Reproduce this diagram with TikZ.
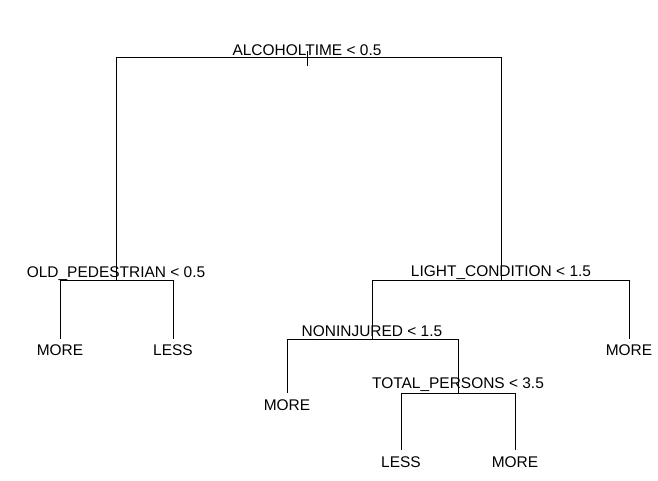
\documentclass[tikz,border=0pt]{standalone}
\usepackage{fontspec}
\setmainfont{Liberation Sans}
\usetikzlibrary{positioning}

\begin{document}
\begin{tikzpicture}[x=0.75pt,y=-0.75pt]
  \tikzstyle{split}=[anchor=base,inner sep=0pt,font=\fontsize{11.6}{13}\selectfont]
  \tikzstyle{leaf}=[inner sep=0pt,font=\fontsize{11.6}{13}\selectfont]
  \tikzstyle{branch}=[black,line width=0.75pt]
  \useasboundingbox (0,0) rectangle (658,480);

  % -- Root split --
  \coordinate (alc) at (307,57);
  \coordinate (alctop) at (307,51);
  \coordinate (alcbot) at (307,65.5);
  \node[split,above=1.3pt of alc,anchor=base] (alclab) {ALCOHOLTIME < 0.5};

  % -- Left subtree --
  \coordinate (oldp) at (116,280.5);
  \node[split,above=2.5pt of oldp,anchor=base] (oldplab) {OLD\_PEDESTRIAN < 0.5};
  \coordinate (l1) at (60,338.5);
  \coordinate (l2) at (173,338.5);
  \node[leaf,below=4.5pt of l1] (l1lab) {MORE};
  \node[leaf,below=4.5pt of l2] (l2lab) {LESS};

  % -- Right subtree --
  \coordinate (light) at (501,280.5);
  \node[split,above=2.7pt of light,anchor=base] (lightlab) {LIGHT\_CONDITION < 1.5};
  \coordinate (l3) at (629,338.5);
  \node[leaf,below=4.5pt of l3] (l3lab) {MORE};

  \coordinate (nonin) at (372,339.5);
  \node[split,above=2.1pt of nonin,anchor=base] (noninlab) {NONINJURED < 1.5};
  \coordinate (l4) at (287,393);
  \node[leaf,below=4.5pt of l4] (l4lab) {MORE};

  \coordinate (total) at (458,393);
  \node[split,above=3.2pt of total,anchor=base] (totallab) {TOTAL\_PERSONS < 3.5};
  \coordinate (l5) at (401,450);
  \coordinate (l6) at (515,450);
  \node[leaf,below=4.5pt of l5] (l5lab) {LESS};
  \node[leaf,below=4.5pt of l6] (l6lab) {MORE};

  % -- Branches --
  \draw[branch] (alctop) -- (alcbot);
  \draw[branch] (alc) -| (oldp);
  \draw[branch] (alc) -| (light);
  \draw[branch] (oldp) -| (l1);
  \draw[branch] (oldp) -| (l2);
  \draw[branch] (light) -| (nonin);
  \draw[branch] (light) -| (l3);
  \draw[branch] (nonin) -| (l4);
  \draw[branch] (nonin) -| (total);
  \draw[branch] (total) -| (l5);
  \draw[branch] (total) -| (l6);
\end{tikzpicture}
\end{document}
